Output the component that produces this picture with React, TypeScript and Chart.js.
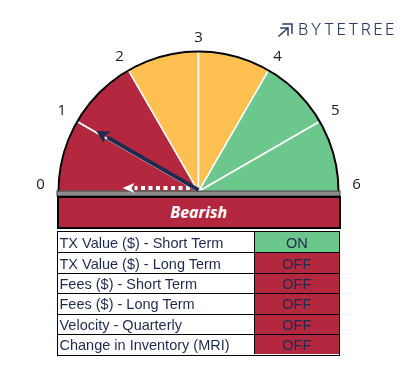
import React, { useEffect, useRef } from 'react';
import { Chart, registerables } from 'chart.js';

Chart.register(...registerables);

// ---- data ----
const gaugeTicks = ['0', '1', '2', '3', '4', '5', '6'];
const segmentValues = [1, 1, 1, 1, 1, 1];
const segmentColors = ['#b3283f', '#b3283f', '#fec151', '#fec151', '#6cc78d', '#6cc78d'];
const currentScore = 1;
const previousScore = 0;
const signalLabel = 'Bearish';
const indicatorNames = [
  'TX Value ($) - Short Term',
  'TX Value ($) - Long Term',
  'Fees ($) - Short Term',
  'Fees ($) - Long Term',
  'Velocity - Quarterly',
  'Change in Inventory (MRI)',
];
const indicatorStatus = ['ON', 'OFF', 'OFF', 'OFF', 'OFF', 'OFF'];

const RED = '#b3283f';
const GREEN = '#6cc78d';
const NAVY = '#1f2a50';

function drawArrow(ctx: CanvasRenderingContext2D, ox: number, oy: number, ang: number, len: number, headLen: number, headHalf: number, color: string, lw: number, dash: number[] | null) {
  const tx = ox + len * Math.cos(ang);
  const ty = oy + len * Math.sin(ang);
  const bx = tx - headLen * Math.cos(ang);
  const by = ty - headLen * Math.sin(ang);
  ctx.save();
  ctx.strokeStyle = color;
  ctx.fillStyle = color;
  ctx.lineWidth = lw;
  if (dash) ctx.setLineDash(dash);
  ctx.beginPath();
  ctx.moveTo(ox, oy);
  ctx.lineTo(bx, by);
  ctx.stroke();
  ctx.setLineDash([]);
  const px = -Math.sin(ang);
  const py = Math.cos(ang);
  ctx.beginPath();
  ctx.moveTo(tx, ty);
  ctx.lineTo(bx + px * headHalf, by + py * headHalf);
  ctx.lineTo(bx + headLen * 0.25 * Math.cos(ang), by + headLen * 0.25 * Math.sin(ang));
  ctx.lineTo(bx - px * headHalf, by - py * headHalf);
  ctx.closePath();
  ctx.fill();
  ctx.restore();
}

const gaugePlugin = {
  id: 'gaugeDecor',
  afterDatasetsDraw(chart: any) {
    const meta = chart.getDatasetMeta(0);
    const arc0 = meta.data[0];
    const cx = arc0.x;
    const cy = arc0.y;
    const R = arc0.outerRadius;
    const start = arc0.startAngle;
    const total = segmentValues.reduce((a, b) => a + b, 0);
    const span = meta.data[meta.data.length - 1].endAngle - start;
    const angOf = (v: number) => start + (v / total) * span;
    const ctx: CanvasRenderingContext2D = chart.ctx;

    // outer black rim
    ctx.save();
    ctx.strokeStyle = '#000';
    ctx.lineWidth = 2;
    ctx.beginPath();
    ctx.arc(cx, cy, R, start, start + span);
    ctx.stroke();
    ctx.restore();

    // base bar
    ctx.save();
    ctx.fillStyle = '#8c8c8c';
    ctx.fillRect(cx - R - 1.5, cy - 0.5, 2 * R + 3, 5);
    ctx.strokeStyle = '#3a3a3a';
    ctx.lineWidth = 1;
    ctx.strokeRect(cx - R - 1.5, cy - 0.5, 2 * R + 3, 5);
    ctx.restore();

    // tick labels
    ctx.save();
    ctx.font = '15px "Open Sans"';
    ctx.fillStyle = '#1a1a1a';
    ctx.textAlign = 'center';
    ctx.textBaseline = 'middle';
    gaugeTicks.forEach((t, i) => {
      const a = angOf(i);
      ctx.fillText(t, cx + 158 * Math.cos(a), cy + 147 * Math.sin(a) - 7);
    });
    ctx.restore();

    // previous score (dashed white arrow)
    drawArrow(ctx, cx - 1, cy - 3.5, angOf(previousScore), 75, 12, 5, '#ffffff', 4, [4, 3.5]);
    // current score (needle)
    drawArrow(ctx, cx, cy - 1.5, angOf(currentScore), 118, 13, 7, NAVY, 3.8, null);
  },
};

export default function App() {
  const ref = useRef<HTMLCanvasElement>(null);
  useEffect(() => {
    if (!ref.current) return;
    const chart = new Chart(ref.current, {
      type: 'doughnut',
      data: {
        labels: segmentValues.map((_, i) => `${gaugeTicks[i]}-${gaugeTicks[i + 1]}`),
        datasets: [
          {
            data: segmentValues,
            backgroundColor: segmentColors,
            borderColor: '#ffffff',
            borderWidth: 1.5,
            hoverOffset: 0,
          },
        ],
      },
      options: {
        responsive: false,
        animation: false,
        devicePixelRatio: 1,
        events: [],
        rotation: -90,
        circumference: 180,
        cutout: 0,
        radius: 140,
        layout: { padding: { left: 58.5, right: 66.5, top: 51.5, bottom: 186.5 } },
        plugins: { legend: { display: false }, tooltip: { enabled: false } },
      } as any,
      plugins: [gaugePlugin],
    });
    return () => chart.destroy();
  }, []);

  return (
    <div style={{ position: 'absolute', left: 0, top: 0, width: 405, height: 378, background: '#fff', overflow: 'hidden' }}>
      <canvas ref={ref} width={405} height={378} style={{ position: 'absolute', left: 0, top: 0, width: 405, height: 378 }} />
      {/* logo */}
      <svg width={17} height={16} viewBox="0 0 17 16" style={{ position: 'absolute', left: 277, top: 22 }}>
        <g stroke="#2b3a67" strokeWidth={1.5} fill="none" strokeLinecap="square">
          <polyline points="6,2 15,2 15,11" />
          <polyline points="4,6 11,6 11,13" />
          <line x1={2} y1={14} x2={10.5} y2={6.5} />
        </g>
      </svg>
      <div
        style={{
          position: 'absolute',
          left: 298,
          top: 19,
          font: '300 16px Inter, "Open Sans", sans-serif',
          letterSpacing: '2.3px',
          color: '#2b3a67',
          lineHeight: '20px',
          whiteSpace: 'nowrap',
        }}
      >
        BYTETREE
      </div>
      {/* signal banner */}
      <div
        style={{
          position: 'absolute',
          left: 56.5,
          top: 196,
          width: 284.5,
          height: 32.5,
          boxSizing: 'border-box',
          border: '2px solid #000',
          background: RED,
          color: '#fff',
          font: 'italic 700 16px "Open Sans", sans-serif',
          display: 'flex',
          alignItems: 'center',
          justifyContent: 'center',
        }}
      >
        {signalLabel}
      </div>
      {/* indicator table */}
      <div
        style={{
          position: 'absolute',
          left: 57,
          top: 231,
          width: 283,
          height: 124.5,
          boxSizing: 'border-box',
          border: '1.5px solid #000',
          display: 'grid',
          gridTemplateColumns: '195.5px minmax(0, 1fr)',
          gridTemplateRows: 'repeat(6, minmax(0, 1fr))',
          overflow: 'hidden',
        }}
      >
        {indicatorNames.map((name, i) => (
          <React.Fragment key={name}>
            <div
              style={{
                borderTop: i === 0 ? 'none' : '1px solid #000',
                font: '14.5px "Liberation Sans", Arial, sans-serif',
                color: NAVY,
                display: 'flex',
                alignItems: 'center',
                paddingLeft: 1.5,
                paddingTop: 1,
                whiteSpace: 'nowrap',
                overflow: 'hidden',
                lineHeight: '16px',
                minHeight: 0,
              }}
            >
              {name}
            </div>
            <div
              style={{
                borderTop: i === 0 ? 'none' : '1px solid #000',
                borderLeft: '1px solid #000',
                background: indicatorStatus[i] === 'ON' ? GREEN : RED,
                font: '14.5px "Liberation Sans", Arial, sans-serif',
                color: NAVY,
                display: 'flex',
                alignItems: 'center',
                justifyContent: 'center',
                paddingTop: 1,
                lineHeight: '16px',
                minHeight: 0,
                overflow: 'hidden',
              }}
            >
              {indicatorStatus[i]}
            </div>
          </React.Fragment>
        ))}
      </div>
    </div>
  );
}
